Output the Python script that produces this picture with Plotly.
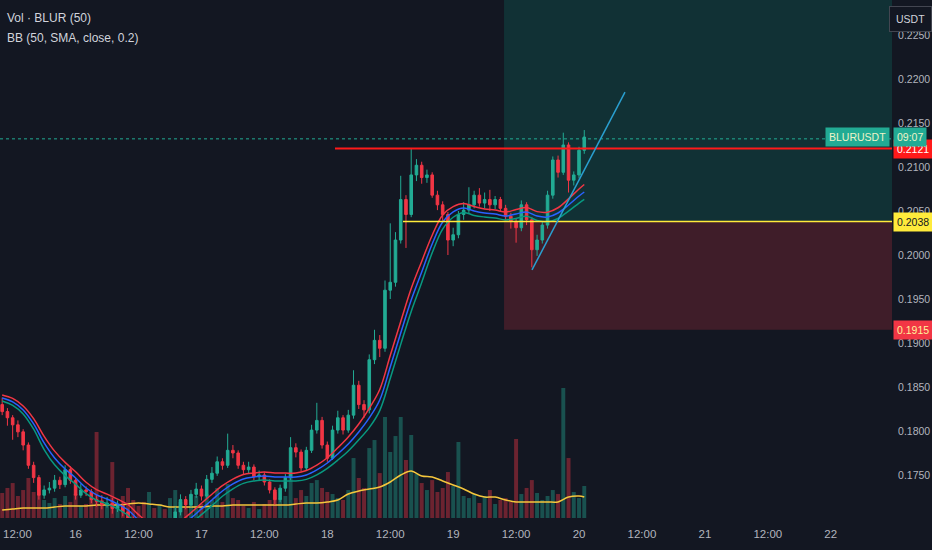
import pandas as pd
import plotly.graph_objects as go

bg = '#131722'
txt = '#b2b5be'
up = '#22ab94'
down = '#f23645'
font = 'Liberation Sans, Arial, sans-serif'

# hourly candles, first one at 15th 10:00
candle_start = '2024-04-15 10:00'
first_open = 0.1830
closes = [0.1822, 0.1815, 0.1807, 0.1799, 0.1784, 0.1761, 0.1747, 0.1727, 0.1733, 0.1735,
          0.1744, 0.1739, 0.1756, 0.1744, 0.1727, 0.1733, 0.1731, 0.1722, 0.1720, 0.1716,
          0.1718, 0.1712, 0.1715, 0.1708, 0.1700, 0.1688, 0.1678, 0.1672, 0.1680, 0.1675,
          0.1684, 0.1679, 0.1690, 0.1708, 0.1722, 0.1716, 0.1728, 0.1734, 0.1726, 0.1745,
          0.1752, 0.1765, 0.1761, 0.1778, 0.1775, 0.1761, 0.1756, 0.1759, 0.1748, 0.1750,
          0.1742, 0.1733, 0.1722, 0.1735, 0.1747, 0.1781, 0.1776, 0.1758, 0.1778, 0.1801,
          0.1812, 0.1784, 0.1769, 0.1801, 0.1815, 0.1801, 0.1818, 0.1852, 0.1830, 0.1824,
          0.1881, 0.1903, 0.1894, 0.1960, 0.1969, 0.2017, 0.2063, 0.2046, 0.2091, 0.2102,
          0.2088, 0.2091, 0.2068, 0.2057, 0.2046, 0.2017, 0.2023, 0.2046, 0.2051, 0.2057,
          0.2068, 0.2059, 0.2063, 0.2057, 0.2063, 0.2053, 0.2044, 0.2038, 0.2031, 0.2057,
          0.2040, 0.2006, 0.2017, 0.2034, 0.2068, 0.2108, 0.2094, 0.2125, 0.2085, 0.2091,
          0.2119, 0.2134]
highs = [0.1838, 0.1826, 0.1818, 0.1812, 0.1802, 0.1787, 0.1765, 0.1750, 0.1738, 0.1742,
         0.1750, 0.1748, 0.1761, 0.1760, 0.1747, 0.1740, 0.1737, 0.1734, 0.1728, 0.1727,
         0.1725, 0.1724, 0.1721, 0.1719, 0.1712, 0.1703, 0.1692, 0.1683, 0.1686, 0.1685,
         0.1689, 0.1688, 0.1696, 0.1714, 0.1728, 0.1726, 0.1733, 0.1741, 0.1738, 0.1750,
         0.1759, 0.1771, 0.1769, 0.1797, 0.1784, 0.1778, 0.1765, 0.1765, 0.1762, 0.1755,
         0.1753, 0.1745, 0.1736, 0.1739, 0.1751, 0.1793, 0.1786, 0.1779, 0.1782, 0.1807,
         0.1832, 0.1816, 0.1788, 0.1806, 0.1823, 0.1818, 0.1824, 0.1869, 0.1857, 0.1835,
         0.1887, 0.1915, 0.1909, 0.1971, 0.2036, 0.2026, 0.2090, 0.2068, 0.2121, 0.2109,
         0.2106, 0.2097, 0.2094, 0.2073, 0.2061, 0.2049, 0.2031, 0.2050, 0.2060, 0.2077,
         0.2073, 0.2076, 0.2071, 0.2074, 0.2067, 0.2066, 0.2057, 0.2048, 0.2042, 0.2062,
         0.2060, 0.2043, 0.2023, 0.2038, 0.2073, 0.2112, 0.2113, 0.2139, 0.2128, 0.2095,
         0.2123, 0.2142]
lows = [0.1818, 0.1806, 0.1790, 0.1793, 0.1778, 0.1757, 0.1741, 0.1722, 0.1723, 0.1729,
        0.1731, 0.1734, 0.1736, 0.1740, 0.1722, 0.1724, 0.1726, 0.1718, 0.1714, 0.1711,
        0.1713, 0.1706, 0.1708, 0.1703, 0.1694, 0.1684, 0.1673, 0.1666, 0.1669, 0.1671,
        0.1672, 0.1674, 0.1676, 0.1687, 0.1704, 0.1711, 0.1713, 0.1724, 0.1721, 0.1723,
        0.1741, 0.1749, 0.1756, 0.1758, 0.1769, 0.1757, 0.1751, 0.1752, 0.1744, 0.1743,
        0.1738, 0.1729, 0.1716, 0.1719, 0.1731, 0.1744, 0.1770, 0.1754, 0.1755, 0.1775,
        0.1797, 0.1780, 0.1765, 0.1767, 0.1797, 0.1796, 0.1798, 0.1814, 0.1825, 0.1815,
        0.1820, 0.1876, 0.1884, 0.1890, 0.1950, 0.1964, 0.2013, 0.2008, 0.2043, 0.2084,
        0.2081, 0.2082, 0.2065, 0.2051, 0.2039, 0.2000, 0.2010, 0.2019, 0.2040, 0.2047,
        0.2053, 0.2055, 0.2053, 0.2050, 0.2052, 0.2049, 0.2040, 0.2030, 0.2014, 0.2027,
        0.2034, 0.1986, 0.1999, 0.2013, 0.2030, 0.2064, 0.2088, 0.2091, 0.2071, 0.2079,
        0.2087, 0.2115]
volumes = [193, 232, 270, 170, 216, 309, 201, 255, 139, 116,
           154, 108, 170, 124, 185, 93, 108, 154, 664, 139,
           93, 432, 116, 170, 232, 139, 93, 124, 201, 77,
           108, 69, 154, 216, 124, 93, 139, 170, 108, 185,
           139, 232, 124, 262, 154, 139, 93, 77, 124, 69,
           108, 139, 201, 154, 170, 347, 154, 216, 170, 270,
           293, 232, 201, 185, 154, 139, 216, 463, 309, 232,
           540, 602, 347, 780, 510, 633, 780, 448, 641, 340,
           270, 216, 293, 201, 232, 355, 247, 587, 170, 154,
           185, 116, 170, 216, 108, 139, 154, 124, 610, 185,
           232, 293, 193, 139, 170, 216, 185, 1004, 463, 201,
           154, 247]

# indicator readings every 2 hours (plus the last candle)
bb_mid = [0.18375, 0.18330, 0.18239, 0.18080, 0.17864, 0.17693, 0.17568, 0.17466, 0.17352, 0.17273,
          0.17227, 0.17170, 0.17102, 0.16989, 0.16898, 0.16852, 0.16864, 0.16920, 0.17011, 0.17114,
          0.17216, 0.17318, 0.17398, 0.17455, 0.17477, 0.17489, 0.17477, 0.17477, 0.17477, 0.17500,
          0.17557, 0.17636, 0.17739, 0.17852, 0.17989, 0.18148, 0.18352, 0.18727, 0.19114, 0.19489,
          0.19807, 0.20125, 0.20375, 0.20489, 0.20534, 0.20500, 0.20477, 0.20466, 0.20443, 0.20466,
          0.20489, 0.20443, 0.20432, 0.20477, 0.20568, 0.20670, 0.20716]
bb_dev = [0.00035, 0.0004, 0.00045, 0.0006, 0.00075, 0.00078, 0.00075, 0.0007, 0.00065, 0.0006,
          0.00055, 0.00055, 0.0006, 0.0006, 0.00055, 0.0005, 0.0005, 0.00055, 0.0006, 0.00065,
          0.00065, 0.0006, 0.00055, 0.0005, 0.00045, 0.00045, 0.00045, 0.00045, 0.00045, 0.0005,
          0.00055, 0.0006, 0.0007, 0.0008, 0.0009, 0.0011, 0.0012, 0.0013, 0.0013, 0.0013,
          0.0012, 0.001, 0.0008, 0.0006, 0.0005, 0.0005, 0.00045, 0.00045, 0.00045, 0.0005,
          0.0005, 0.0005, 0.00055, 0.0006, 0.0007, 0.0008, 0.00085]
vol_ma = [62, 70, 77, 77, 77, 85, 93, 93, 93, 100,
          100, 100, 108, 116, 108, 100, 85, 85, 85, 85,
          93, 93, 100, 100, 100, 100, 100, 100, 108, 116,
          116, 124, 139, 185, 208, 224, 239, 278, 332, 363,
          324, 317, 286, 255, 224, 185, 162, 162, 139, 124,
          124, 124, 124, 124, 162, 170, 162]

price_ticks = [0.1750, 0.1800, 0.1850, 0.1900, 0.1950, 0.2000, 0.2050, 0.2100, 0.2150, 0.2200, 0.2250]
# the first 12:00 sits on the left edge, it is written separately below
first_tick_label = '12:00'
time_ticks = ['2024-04-16', '2024-04-16 12:00', '2024-04-17', '2024-04-17 12:00',
              '2024-04-18', '2024-04-18 12:00', '2024-04-19', '2024-04-19 12:00', '2024-04-20',
              '2024-04-20 12:00', '2024-04-21', '2024-04-21 12:00', '2024-04-22']
time_labels = ['16', '12:00', '17', '12:00', '18', '12:00', '19', '12:00', '20',
               '12:00', '21', '12:00', '22']

# drawings on the chart
entry = 0.2038
stop = 0.1915
target = 0.2350
position_start = '2024-04-19 09:42'
resistance = 0.2121
resistance_start = '2024-04-18 01:28'
entry_line_start = '2024-04-18 14:26'
last_price = 0.2132
trend_x = ['2024-04-19 15:02', '2024-04-20 08:46']
trend_y = [0.1983, 0.2185]

times = pd.date_range(candle_start, periods=len(closes), freq='h')
opens = [first_open] + closes[:-1]
bb_times = list(times[::2]) + [times[-1]]
bb_upper = [m + d for m, d in zip(bb_mid, bb_dev)]
bb_lower = [m - d for m, d in zip(bb_mid, bb_dev)]
vol_colors = ['rgba(34,171,148,0.4)' if c >= o else 'rgba(242,54,69,0.4)' for o, c in zip(opens, closes)]

fig = go.Figure()
fig.add_trace(go.Bar(x=times, y=volumes, marker_color=vol_colors, marker_line_width=0, yaxis='y'))
fig.add_trace(go.Scatter(x=bb_times, y=vol_ma, mode='lines', line=dict(color='#f5c63c', width=1.5, shape='spline'), yaxis='y'))
fig.add_trace(go.Candlestick(x=times, open=opens, high=highs, low=lows, close=closes, yaxis='y2',
                             whiskerwidth=0,
                             increasing=dict(line=dict(color=up, width=1), fillcolor=up),
                             decreasing=dict(line=dict(color=down, width=1), fillcolor=down)))
fig.add_trace(go.Scatter(x=bb_times, y=bb_upper, mode='lines', line=dict(color='#f23645', width=1.5, shape='spline'), yaxis='y2'))
fig.add_trace(go.Scatter(x=bb_times, y=bb_mid, mode='lines', line=dict(color='#2962ff', width=1.5, shape='spline'), yaxis='y2'))
fig.add_trace(go.Scatter(x=bb_times, y=bb_lower, mode='lines', line=dict(color='#089981', width=1.5, shape='spline'), yaxis='y2'))

# long position tool
fig.add_shape(type='rect', xref='x', yref='y2', x0=position_start, x1='2024-04-23', y0=entry, y1=target,
              fillcolor='rgba(8,153,129,0.2)', line_width=0, layer='below')
fig.add_shape(type='rect', xref='x', yref='y2', x0=position_start, x1='2024-04-23', y0=stop, y1=entry,
              fillcolor='rgba(242,54,69,0.2)', line_width=0, layer='below')
fig.add_shape(type='line', xref='paper', yref='y2', x0=0, x1=1, y0=last_price, y1=last_price,
              line=dict(color=up, width=1, dash='dot'))
fig.add_shape(type='line', xref='x', yref='y2', x0=resistance_start, x1='2024-04-23', y0=resistance, y1=resistance,
              line=dict(color='#ff1a1a', width=2))
fig.add_shape(type='line', xref='x', yref='y2', x0=entry_line_start, x1='2024-04-23', y0=entry, y1=entry,
              line=dict(color='#ffeb3b', width=1.5))
fig.add_shape(type='line', xref='x', yref='y2', x0=trend_x[0], x1=trend_x[1], y0=trend_y[0], y1=trend_y[1],
              line=dict(color='#2a9fd0', width=1.5))

# legend texts
fig.add_annotation(text='Vol · BLUR (50)', xref='paper', yref='paper', x=0.006, y=0.965,
                   xanchor='left', yanchor='middle', showarrow=False, font=dict(color='#d1d4dc', size=12, family=font))
fig.add_annotation(text='BB (50, SMA, close, 0.2)', xref='paper', yref='paper', x=0.006, y=0.927,
                   xanchor='left', yanchor='middle', showarrow=False, font=dict(color='#d1d4dc', size=12, family=font))
fig.add_annotation(text=first_tick_label, xref='paper', yref='paper', x=0, y=0, xanchor='left', yanchor='top',
                   xshift=1, yshift=-8, showarrow=False, font=dict(color=txt, size=11.5, family=font))

# price axis labels
def price_label(text, y, bgc, fc):
    fig.add_annotation(text=text, xref='paper', yref='y2', x=1, y=y, xanchor='left', yanchor='middle',
                       xshift=1, showarrow=False, bgcolor=bgc, borderpad=3,
                       font=dict(color=fc, size=10.5, family=font))

price_label('0.2121', resistance, '#ff1a1a', '#ffffff')
price_label('09:07', last_price + 0.0002, up, '#eef3c8')
price_label('0.2038', entry, '#ffeb3b', '#131722')
price_label('0.1915', stop, '#f23645', '#fff59d')
fig.add_annotation(text='BLURUSDT', xref='paper', yref='y2', x=1, y=last_price + 0.0002, xanchor='right', yanchor='middle',
                   xshift=-2, showarrow=False, bgcolor=up, borderpad=3, font=dict(color='#eef3c8', size=10.5, family=font))
fig.add_annotation(text='USDT', xref='paper', yref='paper', x=1.0212, y=0.963, xanchor='center', yanchor='middle',
                   showarrow=False, bgcolor=bg, bordercolor='#434651', borderwidth=1, borderpad=6,
                   font=dict(color='#d1d4dc', size=10.5, family=font))

fig.update_layout(
    width=932, height=550,
    margin=dict(l=0, r=40, t=0, b=32, autoexpand=False),
    paper_bgcolor=bg, plot_bgcolor=bg,
    showlegend=False, hovermode=False, bargap=0.25,
    font=dict(family=font, color=txt, size=12),
    xaxis=dict(type='date', range=['2024-04-15 09:35', '2024-04-22 11:41'],
               tickvals=time_ticks, ticktext=time_labels, showgrid=False, zeroline=False,
               ticks='outside', ticklen=5, tickcolor=bg, rangeslider=dict(visible=False),
               ticklabeloverflow='allow',
               tickfont=dict(color=txt, size=11.5, family=font)),
    yaxis=dict(range=[0, 4000], visible=False, showgrid=False, zeroline=False),
    yaxis2=dict(overlaying='y', side='right', range=[0.17011, 0.22898], tickvals=price_ticks,
                tickformat='.4f', showgrid=False, zeroline=False, ticks='outside', ticklen=3, tickcolor=bg,
                ticklabeloverflow='allow',
                tickfont=dict(color=txt, size=10.5, family=font)),
)

fig.write_html("out.html", config={'displayModeBar': False},
               post_script="document.body.style.margin='0';document.body.style.background='#131722';")
